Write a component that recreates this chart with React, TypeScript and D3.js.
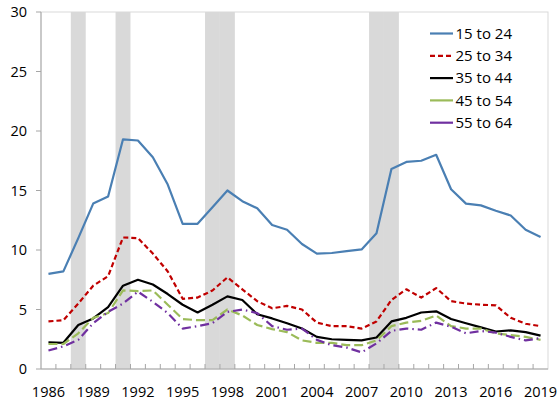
import React from "react";
import * as d3 from "d3";

const years: number[] = d3.range(1986, 2020);
const recessionYears: number[] = [1988, 1991, 1997, 1998, 2008, 2009];
const xTickLabels: number[] = [1986, 1989, 1992, 1995, 1998, 2001, 2004, 2007, 2010, 2013, 2016, 2019];
const yTicks: number[] = [0, 5, 10, 15, 20, 25, 30];

const s15to24: number[] = [8.0, 8.2, 11.0, 13.9, 14.5, 19.3, 19.2, 17.8, 15.5, 12.2, 12.2, 13.6, 15.0, 14.1, 13.5, 12.1, 11.7, 10.5, 9.7, 9.75, 9.9, 10.05, 11.4, 16.8, 17.4, 17.5, 18.0, 15.1, 13.9, 13.75, 13.3, 12.9, 11.7, 11.1];
const s25to34: number[] = [4.0, 4.1, 5.5, 7.0, 7.8, 11.05, 11.0, 9.7, 8.2, 5.9, 6.0, 6.6, 7.7, 6.7, 5.7, 5.1, 5.3, 5.0, 3.9, 3.6, 3.6, 3.4, 4.0, 5.8, 6.7, 6.0, 6.8, 5.7, 5.5, 5.4, 5.35, 4.3, 3.8, 3.6];
const s35to44: number[] = [2.25, 2.2, 3.7, 4.25, 5.2, 7.0, 7.5, 7.1, 6.3, 5.4, 4.75, 5.4, 6.1, 5.8, 4.6, 4.25, 3.85, 3.4, 2.7, 2.5, 2.45, 2.4, 2.65, 4.0, 4.3, 4.75, 4.85, 4.2, 3.85, 3.5, 3.15, 3.25, 3.1, 2.8];
const s45to54: number[] = [2.1, 2.1, 3.0, 4.3, 4.7, 6.6, 6.55, 6.6, 5.4, 4.2, 4.1, 4.1, 5.0, 4.5, 3.7, 3.35, 3.1, 2.4, 2.2, 2.2, 2.0, 2.0, 2.4, 3.6, 3.9, 4.05, 4.5, 3.6, 3.4, 3.4, 3.0, 2.85, 2.7, 2.45];
const s55to64: number[] = [1.55, 1.9, 2.45, 3.85, 4.8, 5.5, 6.5, 5.65, 4.7, 3.4, 3.6, 3.85, 4.8, 5.0, 4.7, 3.6, 3.3, 3.4, 2.45, 2.0, 1.8, 1.4, 2.15, 3.2, 3.4, 3.3, 3.9, 3.55, 3.0, 3.2, 3.05, 2.7, 2.4, 2.6];

const seriesNames: string[] = ["15 to 24", "25 to 34", "35 to 44", "45 to 54", "55 to 64"];
const seriesValues: number[][] = [s15to24, s25to34, s35to44, s45to54, s55to64];
const seriesColors: string[] = ["#4a7fb3", "#c00000", "#000000", "#9bbb59", "#7030a0"];
const seriesDash: string[] = ["", "5,3", "", "9,4", "9,4,1.5,4"];

const W = 557;
const H = 402;
const L = 41;
const R = 548;
const T = 12;
const B = 369;

export default function App() {
  const x = d3.scaleBand<number>().domain(years).range([L, R]).padding(0);
  const bw = x.bandwidth();
  const cx = (yr: number) => (x(yr) as number) + bw / 2;
  const y = d3.scaleLinear().domain([0, 30]).range([B, T]);
  const line = d3
    .line<number>()
    .x((_, i) => cx(years[i]))
    .y((v) => y(v));
  const font = "'Open Sans', sans-serif";

  return (
    <div style={{ position: "fixed", left: 0, top: 0 }}>
      <svg width={W} height={H} style={{ display: "block", background: "#fff" }}>
        {recessionYears.map((yr) => (
          <rect key={yr} x={x(yr)} y={T} width={bw} height={B - T} fill="#d9d9d9" />
        ))}
        <rect x={L} y={T} width={R - L} height={B - T} fill="none" stroke="#d9d9d9" strokeWidth={1} />
        <line x1={L} x2={L} y1={T} y2={B} stroke="#a6a6a6" />
        <line x1={L} x2={R} y1={B} y2={B} stroke="#a6a6a6" />
        {yTicks.map((t) => (
          <g key={t}>
            <line x1={L - 5} x2={L} y1={y(t)} y2={y(t)} stroke="#a6a6a6" />
            <text x={27} y={y(t)} dy="0.35em" textAnchor="end" fontSize={14.5} fontFamily={font} fill="#000">
              {t}
            </text>
          </g>
        ))}
        {d3.range(1, years.length).map((i) => (
          <line key={i} x1={L + i * bw} x2={L + i * bw} y1={B} y2={B - 5} stroke="#a6a6a6" />
        ))}
        {xTickLabels.map((yr) => (
          <text key={yr} x={cx(yr)} y={397} textAnchor="middle" fontSize={14.5} fontFamily={font} fill="#000">
            {yr}
          </text>
        ))}
        {seriesValues.map((vals, k) => (
          <path
            key={seriesNames[k]}
            d={line(vals) as string}
            fill="none"
            stroke={seriesColors[k]}
            strokeWidth={2.2}
            strokeDasharray={seriesDash[k] || undefined}
            strokeLinejoin="round"
          />
        ))}
        {seriesNames.map((name, k) => {
          const ly = 33.5 + k * 22.3;
          return (
            <g key={name}>
              <line
                x1={430}
                x2={453}
                y1={ly}
                y2={ly}
                stroke={seriesColors[k]}
                strokeWidth={2.2}
                strokeDasharray={k === 1 ? "5,3" : undefined}
              />
              <text x={455.5} y={ly} dy="0.35em" fontSize={15} fontFamily={font} fill="#000">
                {name}
              </text>
            </g>
          );
        })}
      </svg>
    </div>
  );
}
